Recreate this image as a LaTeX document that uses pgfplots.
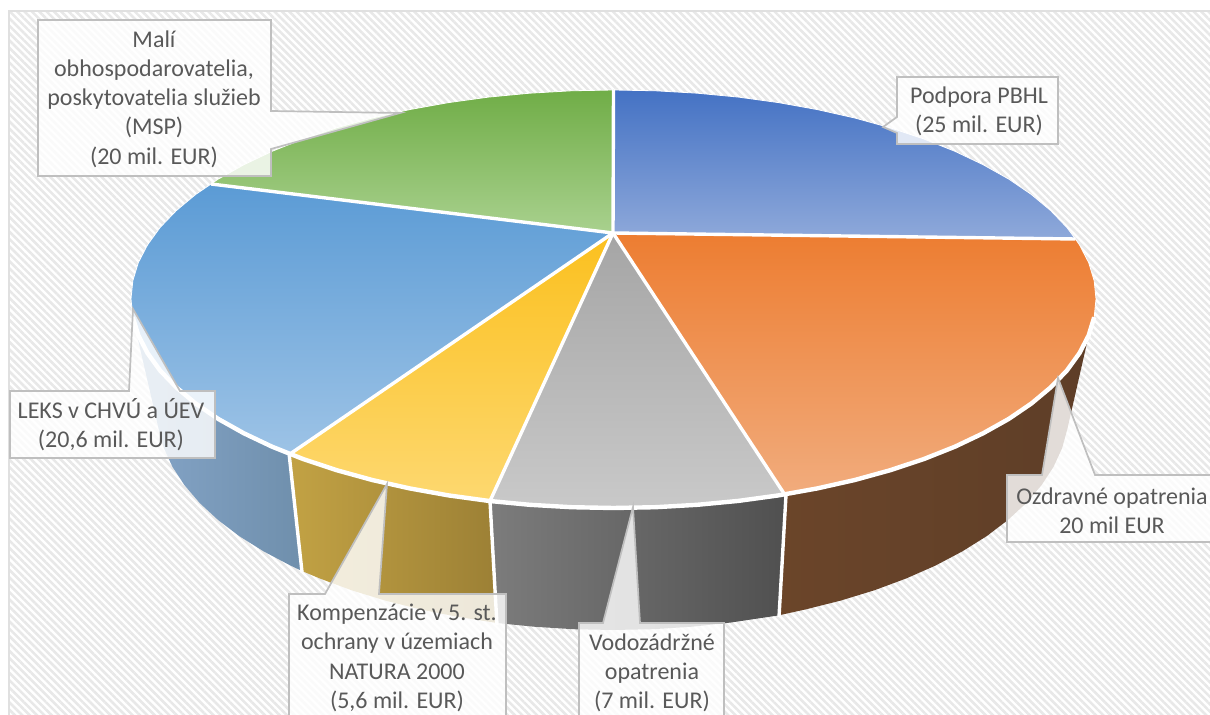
\documentclass[border=0pt]{standalone}
\usepackage{fontspec}
\setmainfont{Carlito}
\usepackage{pgfplots}
\usetikzlibrary{patterns.meta}
\pgfplotsset{compat=1.18}
\definecolor{txt}{HTML}{595959}
\definecolor{edge}{HTML}{BFBFBF}
\pgfplotsset{
  sector/.style={no marks, draw=white, line width=0.4pt, line join=round},
  rim/.style={no marks, draw=none},
  gap/.style={no marks, draw=white, line width=1.7pt},
  callout/.style={no marks, draw=edge, line width=0.85pt, fill=white, fill opacity=0.82, line join=miter},
}
\tikzset{lbl/.style={align=center, text=txt, font=\fontsize{12}{14.6}\selectfont, inner sep=0pt}}
\begin{document}
\begin{tikzpicture}
\begin{axis}[name=ax, width=605pt, height=357.5pt, scale only axis, hide axis,
  xmin=0, xmax=1210, ymin=0, ymax=715, y dir=reverse, clip=true]
% background
\addplot[no marks, draw=black!12, line width=0.8pt, pattern={Lines[angle=-45,distance=2.6pt,line width=1.3pt]}, pattern color=black!9]
  coordinates {(9,11) (1212,11) (1212,717) (9,717)} --cycle;
% rim
\addplot[rim, left color={rgb,255:red,107;green,69;blue,41}, right color={rgb,255:red,94;green,62;blue,40}] coordinates {
  (1088.7,335.3) (1079.5,353.1) (1066.9,370.5) (1050.8,387.3) (1031.4,403.5) (1008.8,418.9) (983.1,433.3) (954.7,446.8) (923.7,459.1) (890.3,470.2) (854.8,480) (817.4,488.4) (785,495)
  (778,615.5) (805.7,609.4) (841,600.5) (874.6,590.2) (906.1,578.5) (935.4,565.6) (962.3,551.4) (986.6,536.2) (1007.9,520) (1026.3,503) (1041.5,485.2) (1053.5,466.9) (1062.1,448.2) (1067.3,429.2)} --cycle;
\addplot[rim, left color={rgb,255:red,124;green,124;blue,124}, right color={rgb,255:red,80;green,80;blue,80}] coordinates {
  (785,495) (778.5,495.4) (738.4,500.9) (697.3,504.8) (655.6,507.2) (613.5,508) (571.4,507.2) (529.7,504.8) (490,501)
  (497,623) (533.8,626.7) (573.2,629.2) (613,630) (652.8,629.2) (692.2,626.7) (731,622.5) (778,615.5)} --cycle;
\addplot[rim, left color={rgb,255:red,194;green,162;blue,68}, right color={rgb,255:red,156;green,128;blue,53}] coordinates {
  (490,501) (448.5,495.4) (409.6,488.4) (372.2,480) (336.7,470.2) (303.3,459.1) (290,454)
  (302,571) (319.9,578.5) (351.4,590.2) (385,600.5) (420.3,609.4) (457,616.7) (497,623)} --cycle;
\addplot[rim, left color={rgb,255:red,133;green,165;blue,200}, right color={rgb,255:red,111;green,143;blue,172}] coordinates {
  (132.8,317.2) (138.3,335.3) (147.5,353.1) (160.1,370.5) (176.2,387.3) (195.6,403.5) (218.2,418.9) (243.9,433.3) (272.3,446.8) (290,454)
  (302,571) (290.6,565.6) (263.7,551.4) (239.4,536.2) (218.1,520) (199.7,503) (184.5,485.2) (172.5,466.9) (163.9,448.2) (158.7,429.2)} --cycle;
\addplot[gap] coordinates {(786,495) (779,617)};
\addplot[gap] coordinates {(490,501) (497,625)};
\addplot[gap] coordinates {(289,453) (302,572)};
% top surface
\addplot[sector, top color={rgb,255:red,68;green,114;blue,196}, bottom color={rgb,255:red,143;green,169;blue,218}] coordinates {
  (613,233) (613.5,90) (655.6,90.8) (697.3,93.2) (738.4,97.1) (778.5,102.6) (817.4,109.6) (854.8,118) (890.3,127.8) (923.7,138.9) (954.7,151.2) (983.1,164.7) (1008.8,179.1) (1031.4,194.5) (1050.8,210.7) (1066.9,227.5) (1075.5,239)} --cycle;
\addplot[sector, top color={rgb,255:red,237;green,125;blue,49}, bottom color={rgb,255:red,241;green,172;blue,125}] coordinates {
  (613,233) (1075.5,239) (1079.5,244.9) (1088.7,262.7) (1094.2,280.8) (1096,299) (1094.2,317.2) (1088.7,335.3) (1079.5,353.1) (1066.9,370.5) (1050.8,387.3) (1031.4,403.5) (1008.8,418.9) (983.1,433.3) (954.7,446.8) (923.7,459.1) (890.3,470.2) (854.8,480) (817.4,488.4) (785,495)} --cycle;
\addplot[sector, top color={rgb,255:red,165;green,165;blue,165}, bottom color={rgb,255:red,201;green,201;blue,201}] coordinates {
  (613,233) (785,495) (778.5,495.4) (738.4,500.9) (697.3,504.8) (655.6,507.2) (613.5,508) (571.4,507.2) (529.7,504.8) (490,501)} --cycle;
\addplot[sector, top color={rgb,255:red,251;green,192;blue,30}, bottom color={rgb,255:red,253;green,216;blue,112}] coordinates {
  (613,233) (490,501) (448.5,495.4) (409.6,488.4) (372.2,480) (336.7,470.2) (303.3,459.1) (290,454)} --cycle;
\addplot[sector, top color={rgb,255:red,91;green,155;blue,213}, bottom color={rgb,255:red,157;green,195;blue,230}] coordinates {
  (613,233) (290,454) (272.3,446.8) (243.9,433.3) (218.2,418.9) (195.6,403.5) (176.2,387.3) (160.1,370.5) (147.5,353.1) (138.3,335.3) (132.8,317.2) (131,299) (132.8,280.8) (138.3,262.7) (147.5,244.9) (160.1,227.5) (176.2,210.7) (195.6,194.5) (211,184)} --cycle;
\addplot[sector, top color={rgb,255:red,112;green,173;blue,71}, bottom color={rgb,255:red,169;green,209;blue,142}] coordinates {
  (613,233) (211,184) (218.2,179.1) (243.9,164.7) (272.3,151.2) (303.3,138.9) (336.7,127.8) (372.2,118) (409.6,109.6) (448.5,102.6) (488.6,97.1) (529.7,93.2) (571.4,90.8) (613.5,90)} --cycle;
% white dividers and front edge
\addplot[gap] coordinates {(613,233) (613.5,90)};
\addplot[gap] coordinates {(613,233) (1075.5,239)};
\addplot[gap] coordinates {(613,233) (785,495)};
\addplot[gap] coordinates {(613,233) (490,501)};
\addplot[gap] coordinates {(613,233) (290,454)};
\addplot[gap] coordinates {(613,233) (211,184)};
\addplot[gap, line width=2.2pt] coordinates {
  (1094.2,317.2) (1088.7,335.3) (1079.5,353.1) (1066.9,370.5) (1050.8,387.3) (1031.4,403.5) (1008.8,418.9) (983.1,433.3) (954.7,446.8) (923.7,459.1) (890.3,470.2) (854.8,480) (817.4,488.4) (778.5,495.4) (738.4,500.9) (697.3,504.8) (655.6,507.2) (613.5,508) (571.4,507.2) (529.7,504.8) (488.6,500.9) (448.5,495.4) (409.6,488.4) (372.2,480) (336.7,470.2) (303.3,459.1) (272.3,446.8) (243.9,433.3) (218.2,418.9) (195.6,403.5) (176.2,387.3) (160.1,370.5) (147.5,353.1) (138.3,335.3) (132.8,317.2)};
% callouts
\addplot[callout] coordinates {(38,20) (271,20) (271,111) (400,113) (271,149) (271,176) (38,176)} --cycle;
\addplot[callout] coordinates {(10,391) (129,391) (133,309) (180,391) (215,391) (215,458) (10,458)} --cycle;
\addplot[callout] coordinates {(289,594) (325,594) (387,484) (379,594) (506,594) (506,725) (289,725)} --cycle;
\addplot[callout] coordinates {(579,623) (603,623) (633,507) (640,623) (724,623) (724,725) (579,725)} --cycle;
\addplot[callout] coordinates {(1007,475) (1042,475) (1058,378) (1095,475) (1220,475) (1220,542) (1007,542)} --cycle;
\addplot[callout] coordinates {(897,77) (1058,77) (1058,144) (897,144) (897,133) (883,127) (897,117)} --cycle;
\node[lbl] at (axis cs:154,99) {Malí\\obhospodarovatelia,\\poskytovatelia služieb\\(MSP)\\(20 mil. EUR)};
\node[lbl] at (axis cs:111,424.5) {LEKS v CHVÚ a ÚEV\\(20,6 mil. EUR)};
\node[lbl] at (axis cs:397,658) {Kompenzácie v 5. st.\\ochrany v územiach\\NATURA 2000\\(5,6 mil. EUR)};
\node[lbl] at (axis cs:652,673) {Vodozádržné\\opatrenia\\(7 mil. EUR)};
\node[lbl] at (axis cs:1112,510.5) {Ozdravné opatrenia\\20 mil EUR};
\node[lbl] at (axis cs:979,111) {Podpora PBHL\\(25 mil. EUR)};
\end{axis}
\pgfresetboundingbox
\path (ax.south west) rectangle (ax.north east);
\end{tikzpicture}
\end{document}
